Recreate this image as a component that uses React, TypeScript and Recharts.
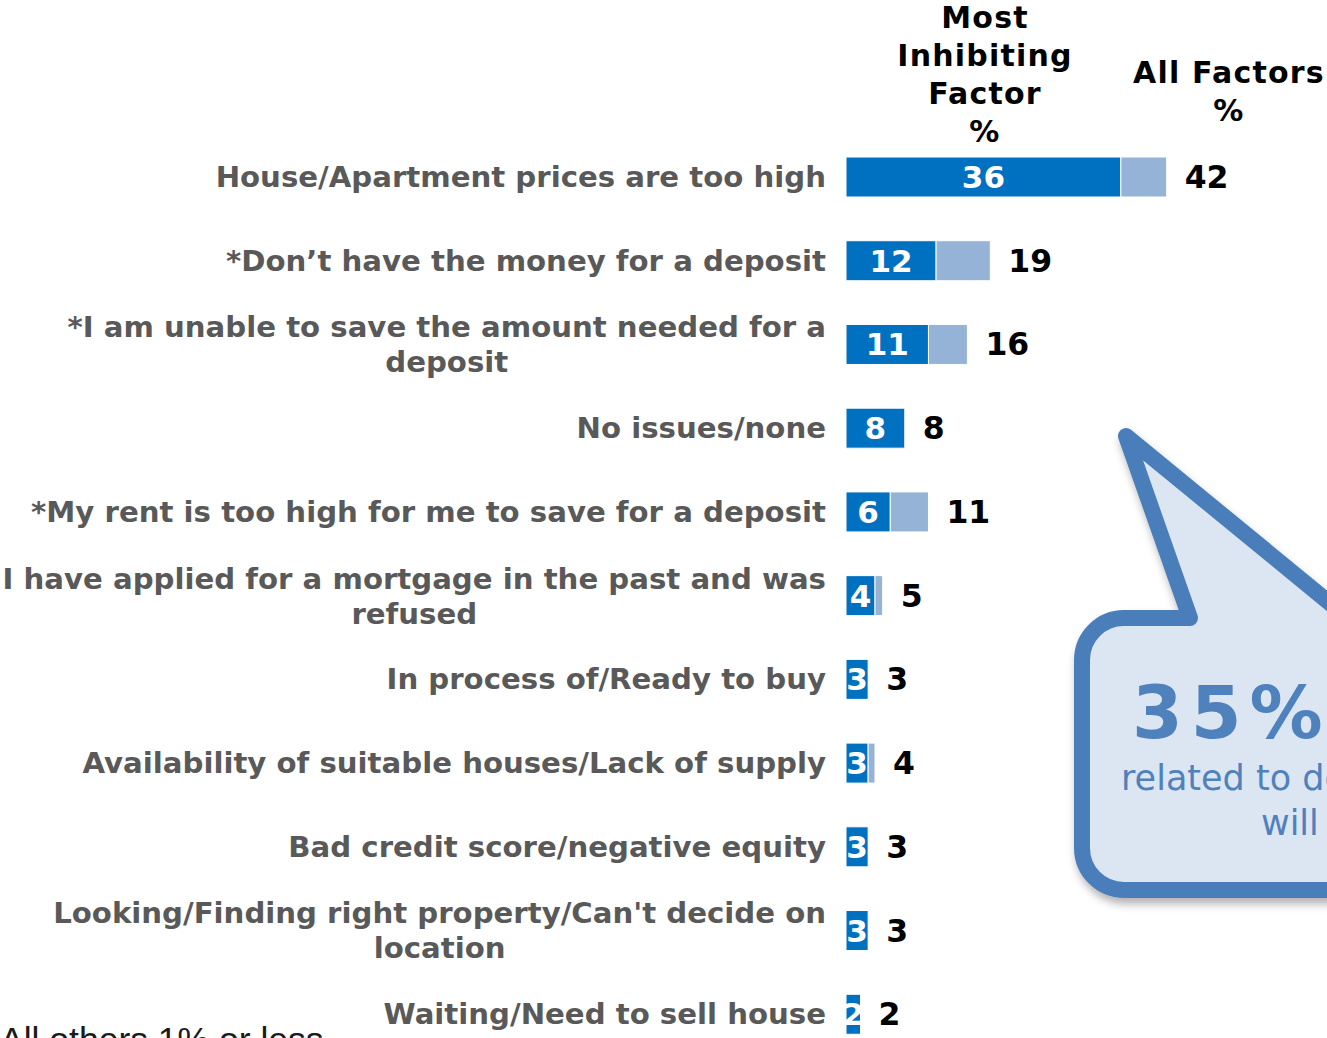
import React from "react"
import { Bar, BarChart, LabelList, XAxis, YAxis } from "recharts"

const CATEGORIES = [
  "House/Apartment prices are too high",
  "*Don’t have the money for a deposit",
  "*I am unable to save the amount needed for a\ndeposit",
  "No issues/none",
  "*My rent is too high for me to save for a deposit",
  "I have applied for a mortgage in the past and was\nrefused",
  "In process of/Ready to buy",
  "Availability of suitable houses/Lack of supply",
  "Bad credit score/negative equity",
  "Looking/Finding right property/Can't decide on\nlocation",
  "Waiting/Need to sell house",
]

// most inhibiting factor %
const MOST = [36, 11.8, 10.8, 7.7, 5.8, 3.8, 2.9, 2.9, 2.9, 2.9, 1.9]
// all factors %
const ALL = [42, 18.9, 15.9, 7.7, 10.8, 4.8, 2.9, 3.8, 2.9, 2.9, 1.9]

const HEAD_MOST = ["Most", "Inhibiting", "Factor", "%"]
const HEAD_ALL = ["All Factors", "%"]

const DARK = "#0070C0"
const LIGHT = "#95B3D7"
const GREY = "#595959"
const CALLOUT = "#4A7EBB"
const FONT = "DejaVu Sans"
const LABEL_SIZE = 29.2

const data = CATEGORIES.map((name, i) => ({
  name,
  most: MOST[i],
  rest: ALL[i] - MOST[i],
  all: ALL[i],
}))

let ctx: CanvasRenderingContext2D | null = null
function textWidth(s: string, font: string) {
  if (!ctx) ctx = document.createElement("canvas").getContext("2d")
  if (!ctx) return s.length * 17
  ctx.font = font
  return ctx.measureText(s).width
}

function CatTick(props: any) {
  const { x = 0, y = 0, payload } = props
  const lines = String(payload.value).split("\n")
  const right = x - 12
  if (lines.length === 1) {
    return (
      <text x={right} y={y + 10} textAnchor="end" fill={GREY} fontSize={LABEL_SIZE} fontWeight="bold" fontFamily={FONT}>
        {lines[0]}
      </text>
    )
  }
  const w = Math.max(...lines.map((l) => textWidth(l, `bold ${LABEL_SIZE}px "${FONT}"`)))
  const cx = right - w / 2
  return (
    <text textAnchor="middle" fill={GREY} fontSize={LABEL_SIZE} fontWeight="bold" fontFamily={FONT}>
      {lines.map((l, i) => (
        <tspan key={i} x={cx} y={y - 7 + i * 35}>
          {l}
        </tspan>
      ))}
    </text>
  )
}

function InLabel(props: any) {
  const { x = 0, y = 0, width = 0, height = 0, value = 0 } = props
  return (
    <text x={x + width / 2} y={y + height / 2 + 11} textAnchor="middle" fill="#fff" fontSize={31} fontWeight="bold" fontFamily={FONT}>
      {Math.round(value)}
    </text>
  )
}

// total label, placed after the end of the whole stack (all factors value)
function OutLabel(props: any) {
  const { x = 0, y = 0, width = 0, height = 0, value = 0, index = 0 } = props
  const most = MOST[index]
  const end = x + (width * value) / most
  return (
    <text x={end + 18} y={y + height / 2 + 11} textAnchor="start" fill="#000" fontSize={31.5} fontWeight="bold" fontFamily={FONT}>
      {Math.round(value)}
    </text>
  )
}

export default function App() {
  return (
    <div
      style={{
        position: "fixed",
        left: 0,
        top: 0,
        width: 1327,
        height: 1038,
        overflow: "hidden",
        background: "#fff",
        fontFamily: FONT,
      }}
    >
      <div style={{ position: "absolute", left: 0, top: 0 }}>
        <BarChart
          layout="vertical"
          width={1327}
          height={1060}
          data={data}
          margin={{ top: 135, right: 0, bottom: 4, left: 0 }}
          barSize={40}
        >
          <XAxis type="number" domain={[0, 63]} hide />
          <YAxis
            type="category"
            dataKey="name"
            width={846}
            axisLine={false}
            tickLine={false}
            interval={0}
            tick={<CatTick />}
          />
          <Bar dataKey="most" stackId="a" fill={DARK} stroke="#fff" strokeWidth={1} isAnimationActive={false}>
            <LabelList dataKey="most" content={<InLabel />} />
            <LabelList dataKey="all" content={<OutLabel />} />
          </Bar>
          <Bar dataKey="rest" stackId="a" fill={LIGHT} stroke="#fff" strokeWidth={1} isAnimationActive={false} />
        </BarChart>
      </div>
      <svg width={1327} height={1038} style={{ position: "absolute", left: 0, top: 0 }}>
        <defs>
          <filter id="shadow" x="-20%" y="-20%" width="140%" height="140%">
            <feDropShadow dx="2" dy="6" stdDeviation="4" floodColor="#000" floodOpacity="0.3" />
          </filter>
        </defs>
        <text textAnchor="middle" fill="#000" fontSize={30} fontWeight="bold" fontFamily={FONT} letterSpacing={1.2}>
          {HEAD_MOST.map((t, i) => (
            <tspan key={t} x={985} y={28 + i * 38}>
              {t}
            </tspan>
          ))}
        </text>
        <text textAnchor="middle" fill="#000" fontSize={30} fontWeight="bold" fontFamily={FONT} letterSpacing={1.2}>
          {HEAD_ALL.map((t, i) => (
            <tspan key={t} x={1229} y={83 + i * 38}>
              {t}
            </tspan>
          ))}
        </text>
        <path
          d="M1124 618 L1190 618 L1126 436 L1348 618 L1520 618 L1520 890 L1124 890 A42 42 0 0 1 1082 848 L1082 660 A42 42 0 0 1 1124 618 Z"
          fill="#DCE6F2"
          stroke={CALLOUT}
          strokeWidth={16}
          strokeLinejoin="round"
          filter="url(#shadow)"
        />
        <text x={1132} y={738} fill="#4F81BD" fontSize={73} fontWeight="bold" fontFamily={FONT} letterSpacing={8}>
          35%
        </text>
        <text x={1121} y={790} fill="#4F81BD" fontSize={35} fontFamily={FONT}>
          related to deposit
        </text>
        <text x={1261} y={835} fill="#4F81BD" fontSize={35} fontFamily={FONT}>
          will
        </text>
        <text x={0} y={1052} fill="#1a1a1a" fontSize={35.5} fontFamily="Liberation Sans">
          All others 1% or less
        </text>
      </svg>
    </div>
  )
}
